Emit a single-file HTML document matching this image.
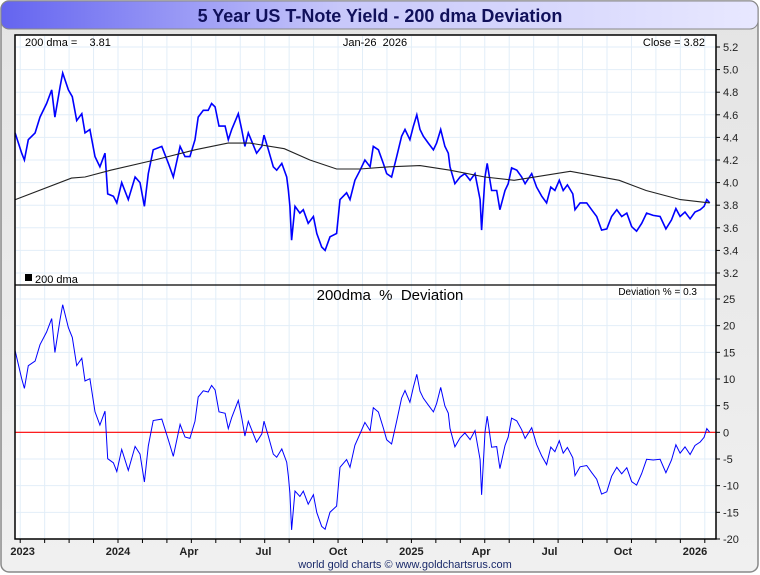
<!DOCTYPE html>
<html><head><meta charset="utf-8"><style>
html,body{margin:0;padding:0;width:760px;height:575px;overflow:hidden;background:#fff;font-family:"Liberation Sans",sans-serif}
</style></head><body>
<svg id="chart" width="760" height="575" xmlns="http://www.w3.org/2000/svg" font-family="Liberation Sans, sans-serif">
<defs>
<linearGradient id="tg" x1="0" x2="1" y1="0" y2="0"><stop offset="0" stop-color="#6464f0"/><stop offset="0.45" stop-color="#c8c8fa"/><stop offset="1" stop-color="#e8e8ff"/></linearGradient>
<linearGradient id="bg" x1="0" x2="0" y1="0" y2="1"><stop offset="0" stop-color="#e4e4e4"/><stop offset="1" stop-color="#f0f0f0"/></linearGradient>
</defs>
<rect x="1" y="1" width="757" height="571" rx="8" fill="url(#bg)" stroke="#888" stroke-width="1.5"/>
<rect x="1" y="1" width="757" height="28" rx="8" fill="url(#tg)" stroke="#888"/>
<text x="380" y="22" text-anchor="middle" font-size="18" font-weight="bold" fill="#10105a">5 Year US T-Note Yield - 200 dma Deviation</text>
<rect x="15" y="35" width="701" height="504" fill="#fff"/>
<g id="grid"></g>
<g id="marks"></g>
<line x1="15" y1="285" x2="716" y2="285" stroke="#000" stroke-width="1.2"/>
<rect x="15" y="35" width="701" height="504" fill="none" stroke="#000" stroke-width="1.5"/>
<g id="axes" font-size="11" fill="#222"></g>
<text x="25" y="46" font-size="11">200 dma =&#160;&#160;&#160;&#160;3.81</text>
<text x="375" y="46" font-size="11" text-anchor="middle">Jan-26&#160;&#160;2026</text>
<text x="705" y="46" font-size="11" text-anchor="end">Close = 3.82</text>
<rect x="25" y="274" width="7" height="7" fill="#000"/>
<text x="35" y="283" font-size="11">200 dma</text>
<text x="390" y="300" font-size="15" text-anchor="middle">200dma&#160;&#160;%&#160;&#160;Deviation</text>
<text x="697" y="295" font-size="10" text-anchor="end">Deviation % = 0.3</text>
<text x="405" y="568" font-size="11" text-anchor="middle" fill="#1a2a6a">world gold charts © www.goldchartsrus.com</text>
</svg>
<script>
const months=[-0.21,0.06,0.17,0.33,0.61,0.81,1.08,1.29,1.42,1.63,1.74,1.97,2.13,2.31,2.52,2.65,2.85,3.06,3.26,3.47,3.58,3.81,3.95,4.15,4.42,4.70,4.90,5.08,5.24,5.44,5.79,6.06,6.26,6.54,6.74,6.94,7.15,7.28,7.49,7.69,7.83,7.97,8.13,8.38,8.51,8.65,8.92,9.06,9.19,9.33,
9.67,9.88,9.97,10.15,10.35,10.49,10.70,10.90,10.97,11.03,11.10,11.24,11.44,11.58,11.78,11.99,12.13,12.33,12.47,12.67,12.94,13.08,13.35,13.49,13.69,13.90,14.10,14.31,14.44,14.65,14.85,14.99,15.19,15.40,15.60,15.74,15.94,16.08,16.22,16.35,16.49,16.69,16.90,17.03,17.20,17.37,17.51,17.58,17.78,17.99,18.19,18.40,18.60,18.81,18.87,19.01,
19.10,19.28,19.49,19.62,19.83,19.96,20.10,20.31,20.51,20.65,20.92,21.12,21.33,21.53,21.70,21.87,22.05,22.21,22.38,22.60,22.69,22.90,23.17,23.37,23.58,23.78,23.99,24.19,24.40,24.60,24.81,25.01,25.21,25.42,25.62,25.89,26.17,26.41,26.64,26.82,26.99,27.19,27.40,27.60,27.81,27.97,28.08,28.20];
const yields=[4.44,4.26,4.20,4.38,4.44,4.58,4.70,4.82,4.58,4.85,4.97,4.82,4.76,4.55,4.61,4.44,4.47,4.23,4.14,4.26,3.90,3.88,3.82,4.00,3.85,4.05,4.00,3.79,4.08,4.29,4.32,4.17,4.05,4.32,4.23,4.23,4.38,4.58,4.64,4.64,4.70,4.67,4.50,4.50,4.38,4.47,4.61,4.47,4.32,4.44,
4.26,4.32,4.42,4.29,4.14,4.11,4.17,4.05,3.93,3.79,3.49,3.79,3.73,3.76,3.64,3.70,3.55,3.43,3.40,3.52,3.55,3.85,3.91,3.85,4.02,4.11,4.20,4.14,4.32,4.29,4.17,4.08,4.05,4.23,4.41,4.47,4.38,4.50,4.60,4.47,4.41,4.35,4.29,4.35,4.47,4.32,4.26,4.14,3.99,4.05,4.08,4.02,4.08,3.85,3.58,4.05,
4.17,3.93,3.93,3.76,3.93,3.99,4.13,4.11,4.05,3.99,4.08,3.96,3.88,3.82,3.96,3.93,4.02,3.93,3.98,3.90,3.76,3.82,3.82,3.76,3.70,3.58,3.59,3.70,3.76,3.70,3.73,3.61,3.57,3.64,3.73,3.71,3.70,3.59,3.67,3.77,3.70,3.74,3.68,3.74,3.76,3.79,3.85,3.82];
const dmaMonths=[-0.2,2.1,2.65,3.7,5.5,7.15,8.5,9.4,10.8,11.85,12.94,13.9,15.1,16.35,17.58,19.0,20.2,22.5,24.5,25.6,27,28.2];
const dmaValues=[3.85,4.04,4.05,4.11,4.2,4.29,4.35,4.35,4.30,4.20,4.12,4.12,4.14,4.15,4.11,4.05,4.02,4.10,4.02,3.93,3.85,3.82];
const topTicks=[3.2,3.4,3.6,3.8,4.0,4.2,4.4,4.6,4.8,5.0,5.2];
const botTicks=[-20,-15,-10,-5,0,5,10,15,20,25];
const xLabels=["2023","2024","Apr","Jul","Oct","2025","Apr","Jul","Oct","2026"];
const xLabelMonths=[0.1,4.0,6.9,9.95,13.0,16.0,18.85,21.65,24.65,27.6];

const NS="http://www.w3.org/2000/svg";
const X=m=>20.2+24.45*m;
const YT=v=>47+(5.2-v)*113;
const YB=v=>299+(25-v)*5.333;
function dmaAt(m){if(m<=dmaMonths[0])return dmaValues[0];for(let i=1;i<dmaMonths.length;i++){if(m<=dmaMonths[i]){const t=(m-dmaMonths[i-1])/(dmaMonths[i]-dmaMonths[i-1]);return dmaValues[i-1]+t*(dmaValues[i]-dmaValues[i-1]);}}return dmaValues[dmaValues.length-1];}
function mk(tag,attrs,parent){const e=document.createElementNS(NS,tag);for(const k in attrs)e.setAttribute(k,attrs[k]);parent.appendChild(e);return e;}
const grid=document.getElementById('grid'),marks=document.getElementById('marks'),axes=document.getElementById('axes');
for(let m=0;m<=28;m++){const x=X(m);if(x<16||x>715)continue;
 const l=mk('line',{x1:x,x2:x,y1:36,y2:538,stroke:'#e2eef8','stroke-width':1},grid);
 
 
 const t=mk('line',{x1:x,x2:x,y1:539,y2:543,stroke:'#000'},axes);
 
 }
topTicks.forEach(v=>{const y=YT(v);
 const g=mk('line',{x1:16,x2:715,y1:y,y2:y,stroke:'#e2eef8'},grid);
 
 
 mk('line',{x1:716,x2:720,y1:y,y2:y,stroke:'#000'},axes);
 const t=mk('text',{x:723,y:y+4},axes);t.textContent=v.toFixed(1);
 
 });
botTicks.forEach(v=>{const y=YB(v);
 const g=mk('line',{x1:16,x2:715,y1:y,y2:y,stroke:'#e2eef8'},grid);
 
 
 mk('line',{x1:716,x2:720,y1:y,y2:y,stroke:'#000'},axes);
 const t=mk('text',{x:723,y:y+4},axes);t.textContent=String(v);
 
 });
xLabels.forEach((s,i)=>{const t=mk('text',{x:X(xLabelMonths[i]),y:555,'text-anchor':'middle','font-weight':'bold'},axes);t.textContent=s;
 
 });
const ypath=months.map((m,i)=>(i?'L':'M')+X(m).toFixed(1)+','+YT(yields[i]).toFixed(1)).join('');
const yl=mk('path',{d:ypath,fill:'none',stroke:'#0000ff','stroke-width':1.6},marks);


const dpath=dmaMonths.map((m,i)=>(i?'L':'M')+X(m).toFixed(1)+','+YT(dmaValues[i]).toFixed(1)).join('');
const dl=mk('path',{d:dpath,fill:'none',stroke:'#222','stroke-width':1.1},marks);


const zl=mk('line',{x1:15,x2:716,y1:YB(0),y2:YB(0),stroke:'#ff0000','stroke-width':1.2},marks);


const vpath=months.map((m,i)=>(i?'L':'M')+X(m).toFixed(1)+','+YB((yields[i]/dmaAt(m)-1)*100).toFixed(1)).join('');
const vl=mk('path',{d:vpath,fill:'none',stroke:'#0000ff','stroke-width':1},marks);


</script>
</body></html>
